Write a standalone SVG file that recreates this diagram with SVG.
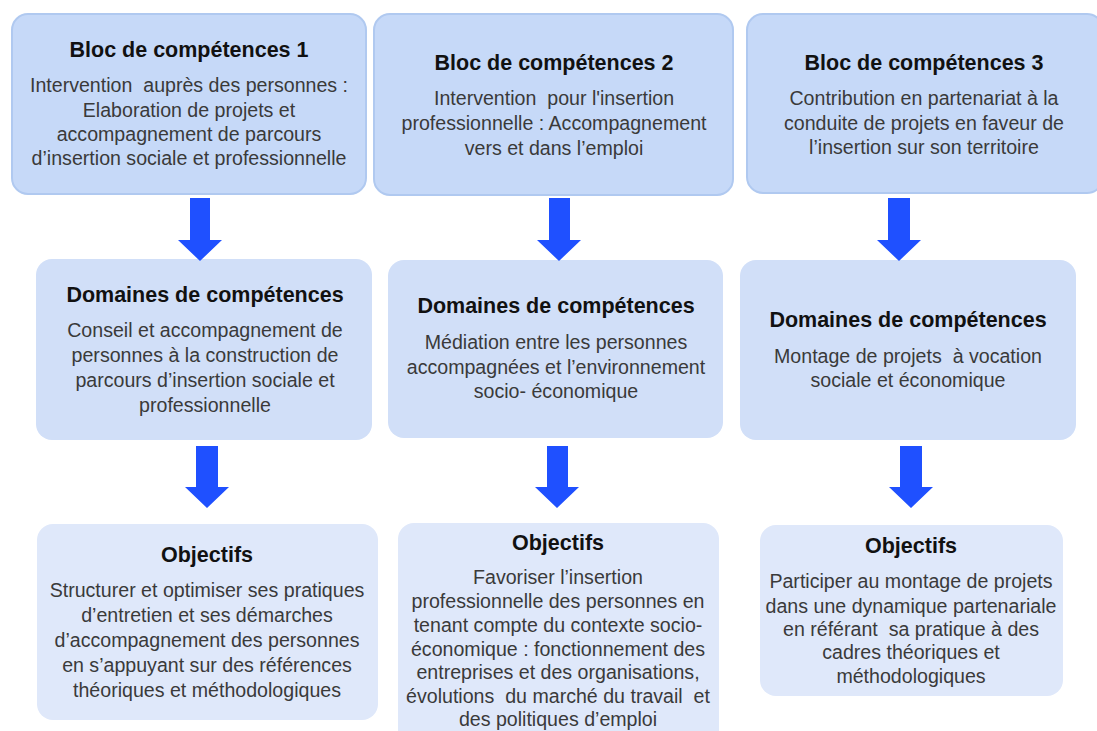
<svg xmlns="http://www.w3.org/2000/svg" width="1097" height="731" viewBox="0 0 1097 731">
<style>
.bloc{fill:#c6d9f8;stroke:#b0c9f0;stroke-width:2}
.dom{fill:#d1dff8}
.obj{fill:#dfe8fa}
.t{font-family:"Liberation Sans",Arial,sans-serif;font-weight:bold;font-size:21.5px;fill:#111;text-anchor:middle}
.b{font-family:"Liberation Sans",Arial,sans-serif;font-size:19.6px;fill:#3a3a3a;text-anchor:middle;white-space:pre}
.arr{fill:#1f50ff}
</style>
<rect width="1097" height="731" fill="#ffffff"/>
<g id="bloc1">
<rect class="bloc" x="12" y="14" width="354" height="180" rx="16"/>
<text class="t" x="189" y="57">Bloc de compétences 1</text>
<text class="b" x="189" y="92" xml:space="preserve">Intervention  auprès des personnes :</text>
<text class="b" x="189" y="117">Elaboration de projets et</text>
<text class="b" x="189" y="141">accompagnement de parcours</text>
<text class="b" x="189" y="165">d’insertion sociale et professionnelle</text>
</g>
<g id="bloc2">
<rect class="bloc" x="374" y="14" width="359" height="181" rx="16"/>
<text class="t" x="554" y="70">Bloc de compétences 2</text>
<text class="b" x="554" y="105" xml:space="preserve">Intervention  pour l'insertion</text>
<text class="b" x="554" y="130">professionnelle : Accompagnement</text>
<text class="b" x="554" y="155">vers et dans l’emploi</text>
</g>
<g id="bloc3">
<rect class="bloc" x="747" y="14" width="356" height="179" rx="16"/>
<text class="t" x="924" y="70">Bloc de compétences 3</text>
<text class="b" x="924" y="105">Contribution en partenariat à la</text>
<text class="b" x="924" y="130">conduite de projets en faveur de</text>
<text class="b" x="924" y="154">l’insertion sur son territoire</text>
</g>
<g id="domaine1">
<rect class="dom" x="36" y="259" width="336" height="181" rx="16"/>
<text class="t" x="205" y="302">Domaines de compétences</text>
<text class="b" x="205" y="337">Conseil et accompagnement de</text>
<text class="b" x="205" y="362">personnes à la construction de</text>
<text class="b" x="205" y="387">parcours d’insertion sociale et</text>
<text class="b" x="205" y="412">professionnelle</text>
</g>
<g id="domaine2">
<rect class="dom" x="388" y="260" width="335" height="178" rx="16"/>
<text class="t" x="556" y="313">Domaines de compétences</text>
<text class="b" x="556" y="349">Médiation entre les personnes</text>
<text class="b" x="556" y="374">accompagnées et l’environnement</text>
<text class="b" x="556" y="398">socio- économique</text>
</g>
<g id="domaine3">
<rect class="dom" x="740" y="260" width="336" height="180" rx="16"/>
<text class="t" x="908" y="327">Domaines de compétences</text>
<text class="b" x="908" y="363" xml:space="preserve">Montage de projets  à vocation</text>
<text class="b" x="908" y="387">sociale et économique</text>
</g>
<g id="objectifs1">
<rect class="obj" x="37" y="524" width="341" height="196" rx="16"/>
<text class="t" x="207" y="562">Objectifs</text>
<text class="b" x="207" y="597">Structurer et optimiser ses pratiques</text>
<text class="b" x="207" y="622">d’entretien et ses démarches</text>
<text class="b" x="207" y="647">d’accompagnement des personnes</text>
<text class="b" x="207" y="672">en s’appuyant sur des références</text>
<text class="b" x="207" y="697">théoriques et méthodologiques</text>
</g>
<g id="objectifs2">
<rect class="obj" x="398" y="523" width="321" height="225" rx="16"/>
<text class="t" x="558" y="550">Objectifs</text>
<text class="b" x="558" y="584">Favoriser l’insertion</text>
<text class="b" x="558" y="608">professionnelle des personnes en</text>
<text class="b" x="558" y="632">tenant compte du contexte socio-</text>
<text class="b" x="558" y="656">économique : fonctionnement des</text>
<text class="b" x="558" y="679">entreprises et des organisations,</text>
<text class="b" x="558" y="703" xml:space="preserve">évolutions  du marché du travail  et</text>
<text class="b" x="558" y="726">des politiques d’emploi</text>
</g>
<g id="objectifs3">
<rect class="obj" x="760" y="525" width="303" height="171" rx="16"/>
<text class="t" x="911" y="553">Objectifs</text>
<text class="b" x="911" y="588">Participer au montage de projets</text>
<text class="b" x="911" y="613">dans une dynamique partenariale</text>
<text class="b" x="911" y="636" xml:space="preserve">en référant  sa pratique à des</text>
<text class="b" x="911" y="659">cadres théoriques et</text>
<text class="b" x="911" y="683">méthodologiques</text>
</g>
<g id="connectors">
<polygon class="arr" points="190,198 210,198 210,240 222,240 200,261 178,240 190,240"/>
<polygon class="arr" points="549,198 570,198 570,240 581,240 559,261 537,240 549,240"/>
<polygon class="arr" points="888,198 910,198 910,240 921,240 899,261 877,240 888,240"/>
<polygon class="arr" points="196,446 218,446 218,487 229,487 207,508 185,487 196,487"/>
<polygon class="arr" points="547,446 568,446 568,487 579,487 557,508 535,487 547,487"/>
<polygon class="arr" points="900,446 922,446 922,487 933,487 911,508 889,487 900,487"/>
</g>
</svg>
